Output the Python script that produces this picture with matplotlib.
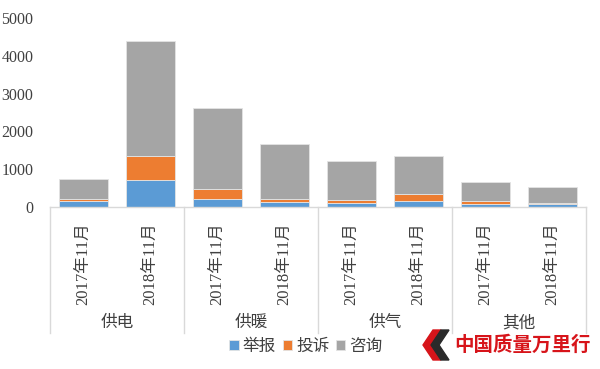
import matplotlib
matplotlib.use("Agg")
import matplotlib.pyplot as plt
from matplotlib.patches import Polygon
from matplotlib.transforms import blended_transform_factory
import numpy as np

plt.rcParams['font.family'] = ['Liberation Serif', 'Noto Sans CJK SC', 'DejaVu Sans']

groups = ['供电', '供暖', '供气', '其他']
periods = ['2017年11月', '2018年11月']
series_names = ['举报', '投诉', '咨询']
report = [150, 714, 204, 140, 98, 150, 88, 88]
complaint = [62, 643, 264, 72, 87, 194, 62, 27]
consult = [521, 3043, 2159, 1446, 1024, 1005, 511, 405]
colors = ['#5b9bd5', '#ed7d31', '#a5a5a5']

W, H = 600, 369
fig = plt.figure(figsize=(W / 100, H / 100), dpi=100)
ax = fig.add_axes([50 / W, 1 - 207 / H, 536 / W, 189 / H])

x = np.arange(len(report))
labels = [p for g in groups for p in periods]
bottom = np.zeros(len(report))
for name, vals, c in zip(series_names, [report, complaint, consult], colors):
    ax.bar(x, vals, width=0.73, bottom=bottom, color=c, label=name,
           edgecolor='#e4e4e4', linewidth=0.6)
    bottom += np.array(vals)

ax.set_xlim(-0.5, len(report) - 0.5)
ax.set_ylim(0, 5000)
ax.set_yticks([0, 1000, 2000, 3000, 4000, 5000])
ax.tick_params(axis='y', length=0, pad=12, labelsize=11.5, labelcolor='#404040')
ax.set_xticks(x)
ax.set_xticklabels(labels, rotation=90, fontsize=12, color='#404040')
ax.tick_params(axis='x', length=0, pad=11)
for s in ['top', 'right', 'left']:
    ax.spines[s].set_visible(False)
ax.spines['bottom'].set_color('#d9d9d9')
ax.spines['bottom'].set_linewidth(1)

tr = blended_transform_factory(ax.transData, ax.transAxes)
for b in [-0.5, 1.5, 3.5, 5.5, 7.5]:
    ax.plot([b, b], [0, -126 / 189], transform=tr, color='#d9d9d9', lw=1, clip_on=False)
for i, g in enumerate(groups):
    ax.text(2 * i + 0.5, -116 / 189, g, transform=tr, ha='center', va='center',
            fontsize=12, color='#404040')

leg = fig.legend(loc='center', bbox_to_anchor=(306 / W, 1 - 347 / H), ncol=3,
                 frameon=False, fontsize=12, handlelength=0.55, handleheight=0.55,
                 handletextpad=0.25, columnspacing=0.4, labelcolor='#404040')

# watermark logo
def px(pts):
    return [(a / W, 1 - b / H) for a, b in pts]
fig.patches.append(Polygon(px([(433, 330), (441, 330), (431, 345), (441, 360), (433, 360), (423, 345)]),
                           closed=True, transform=fig.transFigure, color='#d7141a'))
fig.patches.append(Polygon(px([(441, 330), (449, 330), (439, 345), (449, 360), (441, 360), (431, 345)]),
                           closed=True, transform=fig.transFigure, color='#2a2a2a'))
fig.text(522 / W, 1 - 345 / H, '中国质量万里行', ha='center', va='center',
         fontsize=14, color='#d7141a', fontweight='bold',
         family=['Noto Sans CJK SC'])

fig.savefig('out.png', dpi=100)
